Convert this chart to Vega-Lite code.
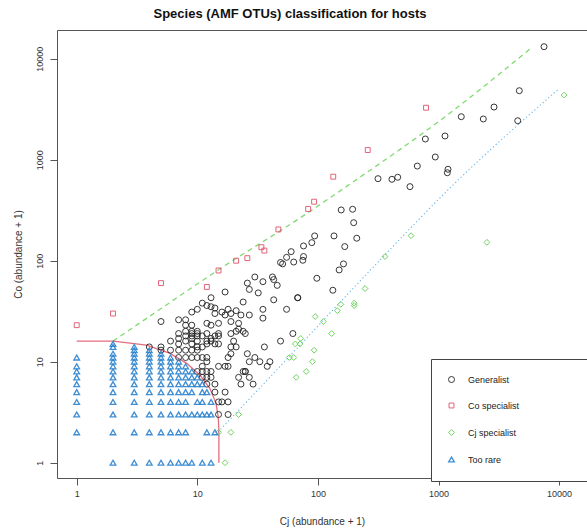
{
  "$schema": "https://vega.github.io/schema/vega-lite/v6.json",
  "width": 530,
  "height": 448,
  "autosize": {"type": "none"},
  "padding": {"left": 57, "top": 30, "right": 0, "bottom": 52},
  "title": {"text": "Species (AMF OTUs) classification for hosts", "font": "Liberation Sans", "fontSize": 13, "fontWeight": "bold", "color": "#111111", "anchor": "middle", "dx": -32, "offset": 9},
  "config": {
    "view": {"stroke": "#555555", "strokeWidth": 1},
    "axis": {"grid": false, "domain": false, "tickSize": 7, "tickColor": "#555555", "labelFont": "Liberation Sans", "labelFontSize": 9, "labelColor": "#333333", "labelFlush": false, "labelOverlap": false, "titleFont": "Liberation Sans", "titleFontSize": 10, "titleFontWeight": "normal", "titleColor": "#333333"}
  },
  "datasets": {
    "dashed": [
      {"i": 1, "Cj": 2, "Co": 16},
      {"i": 2, "Cj": 4.05, "Co": 28.3},
      {"i": 3, "Cj": 14.9, "Co": 80.9},
      {"i": 4, "Cj": 71.1, "Co": 265},
      {"i": 5, "Cj": 184.6, "Co": 574},
      {"i": 6, "Cj": 1245, "Co": 2898},
      {"i": 7, "Cj": 5850, "Co": 12760}
    ],
    "dotted": [
      {"i": 1, "Cj": 14.85, "Co": 2.01},
      {"i": 2, "Cj": 27.35, "Co": 4.34},
      {"i": 3, "Cj": 71.1, "Co": 14.6},
      {"i": 4, "Cj": 327, "Co": 101.6},
      {"i": 5, "Cj": 1245, "Co": 525},
      {"i": 6, "Cj": 9700, "Co": 4898}
    ],
    "curve": [
      {"i": 1, "Cj": 1, "Co": 16},
      {"i": 2, "Cj": 2.01, "Co": 16},
      {"i": 3, "Cj": 3.8, "Co": 14.6},
      {"i": 4, "Cj": 5.94, "Co": 12.1},
      {"i": 5, "Cj": 8.17, "Co": 9.64},
      {"i": 6, "Cj": 10.5, "Co": 7.38},
      {"i": 7, "Cj": 12.7, "Co": 5.45},
      {"i": 8, "Cj": 14.3, "Co": 3.87},
      {"i": 9, "Cj": 14.9, "Co": 2.85},
      {"i": 10, "Cj": 15.1, "Co": 2.11},
      {"i": 11, "Cj": 15.1, "Co": 1}
    ],
    "points": [
      {"Cj":7500,"Co":13150,"class":"Generalist"},{"Cj":4677,"Co":4822,"class":"Generalist"},{"Cj":2886,"Co":3324,"class":"Generalist"},{"Cj":1545,"Co":2666,"class":"Generalist"},{"Cj":2352,"Co":2530,"class":"Generalist"},{"Cj":4538,"Co":2432,"class":"Generalist"},{"Cj":778,"Co":1603,"class":"Generalist"},{"Cj":1132,"Co":1718,"class":"Generalist"},{"Cj":940,"Co":1064,"class":"Generalist"},{"Cj":1199,"Co":804,"class":"Generalist"},{"Cj":1183,"Co":743,"class":"Generalist"},{"Cj":667,"Co":865,"class":"Generalist"},{"Cj":315,"Co":649,"class":"Generalist"},{"Cj":411,"Co":640,"class":"Generalist"},{"Cj":459,"Co":670,"class":"Generalist"},{"Cj":580,"Co":541,"class":"Generalist"},{"Cj":156,"Co":318,"class":"Generalist"},{"Cj":194,"Co":323,"class":"Generalist"},{"Cj":198,"Co":238,"class":"Generalist"},{"Cj":94,"Co":176,"class":"Generalist"},{"Cj":136,"Co":176,"class":"Generalist"},{"Cj":210,"Co":167,"class":"Generalist"},{"Cj":76,"Co":140,"class":"Generalist"},{"Cj":89,"Co":151,"class":"Generalist"},{"Cj":167,"Co":138,"class":"Generalist"},
      {"Cj":60,"Co":123,"class":"Generalist"},{"Cj":55,"Co":108,"class":"Generalist"},{"Cj":63,"Co":97,"class":"Generalist"},{"Cj":75,"Co":101,"class":"Generalist"},{"Cj":76,"Co":110,"class":"Generalist"},{"Cj":49,"Co":96,"class":"Generalist"},{"Cj":51,"Co":93,"class":"Generalist"},{"Cj":163,"Co":93,"class":"Generalist"},{"Cj":150,"Co":81,"class":"Generalist"},{"Cj":98,"Co":67,"class":"Generalist"},{"Cj":133,"Co":51,"class":"Generalist"},{"Cj":55,"Co":33,"class":"Generalist"},{"Cj":68,"Co":43,"class":"Generalist"},{"Cj":68,"Co":43,"class":"Generalist"},{"Cj":43,"Co":41,"class":"Generalist"},{"Cj":30,"Co":69,"class":"Generalist"},{"Cj":35,"Co":62,"class":"Generalist"},{"Cj":42,"Co":69,"class":"Generalist"},{"Cj":43,"Co":65,"class":"Generalist"},{"Cj":13,"Co":43,"class":"Generalist"},{"Cj":35,"Co":33,"class":"Generalist"},{"Cj":35,"Co":27,"class":"Generalist"},{"Cj":62,"Co":19,"class":"Generalist"},{"Cj":49,"Co":16,"class":"Generalist"},{"Cj":36,"Co":14,"class":"Generalist"},{"Cj":38,"Co":9,"class":"Generalist"},{"Cj":33,"Co":10,"class":"Generalist"},{"Cj":40,"Co":10,"class":"Generalist"},{"Cj":25,"Co":8,"class":"Generalist"},{"Cj":23,"Co":6,"class":"Generalist"},{"Cj":29,"Co":6,"class":"Generalist"},{"Cj":46,"Co":57,"class":"Generalist"},
      {"Cj":17,"Co":49,"class":"Generalist"},{"Cj":26,"Co":60,"class":"Generalist"},{"Cj":27,"Co":52,"class":"Generalist"},{"Cj":32,"Co":48,"class":"Generalist"},{"Cj":11,"Co":38,"class":"Generalist"},{"Cj":12,"Co":36,"class":"Generalist"},{"Cj":13,"Co":35,"class":"Generalist"},{"Cj":14,"Co":34,"class":"Generalist"},{"Cj":10,"Co":33,"class":"Generalist"},{"Cj":9,"Co":31,"class":"Generalist"},{"Cj":8,"Co":26,"class":"Generalist"},{"Cj":7,"Co":26,"class":"Generalist"},{"Cj":5,"Co":25,"class":"Generalist"},{"Cj":18,"Co":33,"class":"Generalist"},{"Cj":16,"Co":31,"class":"Generalist"},{"Cj":14,"Co":30,"class":"Generalist"},{"Cj":17,"Co":29,"class":"Generalist"},{"Cj":19,"Co":30,"class":"Generalist"},{"Cj":21,"Co":32,"class":"Generalist"},{"Cj":23,"Co":29,"class":"Generalist"},{"Cj":22,"Co":24,"class":"Generalist"},{"Cj":19,"Co":25,"class":"Generalist"},{"Cj":15,"Co":24,"class":"Generalist"},{"Cj":13,"Co":23,"class":"Generalist"},{"Cj":12,"Co":24,"class":"Generalist"},{"Cj":9,"Co":23,"class":"Generalist"},{"Cj":8,"Co":23,"class":"Generalist"},{"Cj":8,"Co":20,"class":"Generalist"},{"Cj":9,"Co":20,"class":"Generalist"},{"Cj":10,"Co":20,"class":"Generalist"},{"Cj":24,"Co":39,"class":"Generalist"},{"Cj":27,"Co":29,"class":"Generalist"},{"Cj":21,"Co":20,"class":"Generalist"},{"Cj":22,"Co":21,"class":"Generalist"},{"Cj":24,"Co":20,"class":"Generalist"},{"Cj":25,"Co":19,"class":"Generalist"},{"Cj":19,"Co":19,"class":"Generalist"},{"Cj":12,"Co":19,"class":"Generalist"},{"Cj":14,"Co":18,"class":"Generalist"},{"Cj":15,"Co":19,"class":"Generalist"},{"Cj":13,"Co":17,"class":"Generalist"},{"Cj":11,"Co":18,"class":"Generalist"},{"Cj":10,"Co":18,"class":"Generalist"},{"Cj":9,"Co":18,"class":"Generalist"},{"Cj":7,"Co":17,"class":"Generalist"},{"Cj":7,"Co":15,"class":"Generalist"},{"Cj":8,"Co":16,"class":"Generalist"},{"Cj":9,"Co":15,"class":"Generalist"},{"Cj":10,"Co":16,"class":"Generalist"},{"Cj":10,"Co":14,"class":"Generalist"},{"Cj":11,"Co":14,"class":"Generalist"},{"Cj":12,"Co":15,"class":"Generalist"},{"Cj":13,"Co":16,"class":"Generalist"},{"Cj":14,"Co":15,"class":"Generalist"},{"Cj":20,"Co":16,"class":"Generalist"},{"Cj":5,"Co":13,"class":"Generalist"},{"Cj":6,"Co":13,"class":"Generalist"},{"Cj":7,"Co":13,"class":"Generalist"},{"Cj":8,"Co":13,"class":"Generalist"},{"Cj":9,"Co":13,"class":"Generalist"},{"Cj":10,"Co":13,"class":"Generalist"},{"Cj":19,"Co":14,"class":"Generalist"},{"Cj":21,"Co":14,"class":"Generalist"},{"Cj":18,"Co":11,"class":"Generalist"},{"Cj":19,"Co":12,"class":"Generalist"},{"Cj":26,"Co":12,"class":"Generalist"},{"Cj":27,"Co":10,"class":"Generalist"},{"Cj":30,"Co":11,"class":"Generalist"},{"Cj":7,"Co":11,"class":"Generalist"},{"Cj":8,"Co":11,"class":"Generalist"},{"Cj":9,"Co":11,"class":"Generalist"},{"Cj":10,"Co":11,"class":"Generalist"},{"Cj":11,"Co":11,"class":"Generalist"},{"Cj":12,"Co":11,"class":"Generalist"},{"Cj":12,"Co":10,"class":"Generalist"},{"Cj":11,"Co":9,"class":"Generalist"},{"Cj":12,"Co":8,"class":"Generalist"},{"Cj":15,"Co":9,"class":"Generalist"},{"Cj":17,"Co":9,"class":"Generalist"},{"Cj":18,"Co":9,"class":"Generalist"},{"Cj":11,"Co":8,"class":"Generalist"},{"Cj":12,"Co":7,"class":"Generalist"},{"Cj":22,"Co":7,"class":"Generalist"},{"Cj":24,"Co":8,"class":"Generalist"},{"Cj":27,"Co":7,"class":"Generalist"},{"Cj":14,"Co":6,"class":"Generalist"},{"Cj":14,"Co":5,"class":"Generalist"},{"Cj":15,"Co":4,"class":"Generalist"},{"Cj":18,"Co":4,"class":"Generalist"},{"Cj":15,"Co":3,"class":"Generalist"},{"Cj":18,"Co":3,"class":"Generalist"},
      {"Cj":4,"Co":14,"class":"Generalist"},{"Cj":5,"Co":14,"class":"Generalist"},{"Cj":7,"Co":19,"class":"Generalist"},{"Cj":8,"Co":18,"class":"Generalist"},{"Cj":9,"Co":19,"class":"Generalist"},{"Cj":9,"Co":17,"class":"Generalist"},{"Cj":10,"Co":19,"class":"Generalist"},{"Cj":12,"Co":16,"class":"Generalist"},{"Cj":15,"Co":18,"class":"Generalist"},{"Cj":15,"Co":15,"class":"Generalist"},{"Cj":13,"Co":8,"class":"Generalist"},{"Cj":12,"Co":6,"class":"Generalist"},{"Cj":11,"Co":7,"class":"Generalist"},{"Cj":13,"Co":7,"class":"Generalist"},{"Cj":10,"Co":8,"class":"Generalist"},{"Cj":16,"Co":4,"class":"Generalist"},{"Cj":17,"Co":5,"class":"Generalist"},{"Cj":25,"Co":8,"class":"Generalist"},{"Cj":6,"Co":16,"class":"Generalist"},
      {"Cj":1,"Co":23,"class":"Co specialist"},{"Cj":2,"Co":30,"class":"Co specialist"},{"Cj":5,"Co":60,"class":"Co specialist"},{"Cj":12,"Co":55,"class":"Co specialist"},{"Cj":15,"Co":80,"class":"Co specialist"},{"Cj":21,"Co":100,"class":"Co specialist"},{"Cj":26,"Co":106,"class":"Co specialist"},{"Cj":34,"Co":136,"class":"Co specialist"},{"Cj":36,"Co":126,"class":"Co specialist"},{"Cj":47,"Co":204,"class":"Co specialist"},{"Cj":83,"Co":325,"class":"Co specialist"},{"Cj":93,"Co":384,"class":"Co specialist"},{"Cj":134,"Co":679,"class":"Co specialist"},{"Cj":259,"Co":1247,"class":"Co specialist"},{"Cj":788,"Co":3273,"class":"Co specialist"},
      {"Cj":246,"Co":53,"class":"Cj specialist"},{"Cj":155,"Co":37,"class":"Cj specialist"},{"Cj":145,"Co":32,"class":"Cj specialist"},{"Cj":200,"Co":38,"class":"Cj specialist"},{"Cj":200,"Co":36,"class":"Cj specialist"},{"Cj":95,"Co":28,"class":"Cj specialist"},{"Cj":111,"Co":25,"class":"Cj specialist"},{"Cj":130,"Co":19,"class":"Cj specialist"},{"Cj":72,"Co":17,"class":"Cj specialist"},{"Cj":65,"Co":15,"class":"Cj specialist"},{"Cj":71,"Co":15,"class":"Cj specialist"},{"Cj":93,"Co":13,"class":"Cj specialist"},{"Cj":58,"Co":11,"class":"Cj specialist"},{"Cj":63,"Co":11,"class":"Cj specialist"},{"Cj":90,"Co":10,"class":"Cj specialist"},{"Cj":80,"Co":8,"class":"Cj specialist"},{"Cj":66,"Co":7,"class":"Cj specialist"},{"Cj":592,"Co":177,"class":"Cj specialist"},{"Cj":360,"Co":110,"class":"Cj specialist"},{"Cj":2520,"Co":152,"class":"Cj specialist"},{"Cj":11000,"Co":4365,"class":"Cj specialist"},{"Cj":15,"Co":2,"class":"Cj specialist"},{"Cj":19,"Co":2,"class":"Cj specialist"},{"Cj":22,"Co":3,"class":"Cj specialist"},{"Cj":17,"Co":1,"class":"Cj specialist"},
      {"Cj":2,"Co":1,"class":"Too rare"},{"Cj":3,"Co":1,"class":"Too rare"},{"Cj":4,"Co":1,"class":"Too rare"},{"Cj":5,"Co":1,"class":"Too rare"},{"Cj":6,"Co":1,"class":"Too rare"},{"Cj":7,"Co":1,"class":"Too rare"},{"Cj":8,"Co":1,"class":"Too rare"},{"Cj":9,"Co":1,"class":"Too rare"},{"Cj":11,"Co":1,"class":"Too rare"},{"Cj":13,"Co":1,"class":"Too rare"},
      {"Cj":1,"Co":2,"class":"Too rare"},{"Cj":2,"Co":2,"class":"Too rare"},{"Cj":3,"Co":2,"class":"Too rare"},{"Cj":4,"Co":2,"class":"Too rare"},{"Cj":5,"Co":2,"class":"Too rare"},{"Cj":6,"Co":2,"class":"Too rare"},{"Cj":7,"Co":2,"class":"Too rare"},{"Cj":8,"Co":2,"class":"Too rare"},{"Cj":12,"Co":2,"class":"Too rare"},{"Cj":14,"Co":2,"class":"Too rare"},
      {"Cj":1,"Co":3,"class":"Too rare"},{"Cj":2,"Co":3,"class":"Too rare"},{"Cj":3,"Co":3,"class":"Too rare"},{"Cj":4,"Co":3,"class":"Too rare"},{"Cj":5,"Co":3,"class":"Too rare"},{"Cj":6,"Co":3,"class":"Too rare"},{"Cj":7,"Co":3,"class":"Too rare"},{"Cj":8,"Co":3,"class":"Too rare"},{"Cj":9,"Co":3,"class":"Too rare"},{"Cj":10,"Co":3,"class":"Too rare"},{"Cj":11,"Co":3,"class":"Too rare"},{"Cj":12,"Co":3,"class":"Too rare"},{"Cj":13,"Co":3,"class":"Too rare"},
      {"Cj":1,"Co":4,"class":"Too rare"},{"Cj":2,"Co":4,"class":"Too rare"},{"Cj":3,"Co":4,"class":"Too rare"},{"Cj":4,"Co":4,"class":"Too rare"},{"Cj":5,"Co":4,"class":"Too rare"},{"Cj":6,"Co":4,"class":"Too rare"},{"Cj":7,"Co":4,"class":"Too rare"},{"Cj":8,"Co":4,"class":"Too rare"},{"Cj":10,"Co":4,"class":"Too rare"},{"Cj":11,"Co":4,"class":"Too rare"},{"Cj":13,"Co":4,"class":"Too rare"},
      {"Cj":1,"Co":5,"class":"Too rare"},{"Cj":2,"Co":5,"class":"Too rare"},{"Cj":3,"Co":5,"class":"Too rare"},{"Cj":4,"Co":5,"class":"Too rare"},{"Cj":5,"Co":5,"class":"Too rare"},{"Cj":6,"Co":5,"class":"Too rare"},{"Cj":7,"Co":5,"class":"Too rare"},{"Cj":8,"Co":5,"class":"Too rare"},{"Cj":9,"Co":5,"class":"Too rare"},{"Cj":11,"Co":5,"class":"Too rare"},{"Cj":12,"Co":5,"class":"Too rare"},
      {"Cj":1,"Co":6,"class":"Too rare"},{"Cj":2,"Co":6,"class":"Too rare"},{"Cj":3,"Co":6,"class":"Too rare"},{"Cj":4,"Co":6,"class":"Too rare"},{"Cj":5,"Co":6,"class":"Too rare"},{"Cj":6,"Co":6,"class":"Too rare"},{"Cj":7,"Co":6,"class":"Too rare"},{"Cj":8,"Co":6,"class":"Too rare"},{"Cj":9,"Co":6,"class":"Too rare"},{"Cj":10,"Co":6,"class":"Too rare"},{"Cj":11,"Co":6,"class":"Too rare"},
      {"Cj":1,"Co":7,"class":"Too rare"},{"Cj":2,"Co":7,"class":"Too rare"},{"Cj":3,"Co":7,"class":"Too rare"},{"Cj":4,"Co":7,"class":"Too rare"},{"Cj":5,"Co":7,"class":"Too rare"},{"Cj":6,"Co":7,"class":"Too rare"},{"Cj":7,"Co":7,"class":"Too rare"},{"Cj":8,"Co":7,"class":"Too rare"},{"Cj":9,"Co":7,"class":"Too rare"},{"Cj":10,"Co":7,"class":"Too rare"},
      {"Cj":1,"Co":8,"class":"Too rare"},{"Cj":2,"Co":8,"class":"Too rare"},{"Cj":3,"Co":8,"class":"Too rare"},{"Cj":4,"Co":8,"class":"Too rare"},{"Cj":5,"Co":8,"class":"Too rare"},{"Cj":6,"Co":8,"class":"Too rare"},{"Cj":7,"Co":8,"class":"Too rare"},{"Cj":8,"Co":8,"class":"Too rare"},{"Cj":9,"Co":8,"class":"Too rare"},
      {"Cj":1,"Co":9,"class":"Too rare"},{"Cj":2,"Co":9,"class":"Too rare"},{"Cj":3,"Co":9,"class":"Too rare"},{"Cj":4,"Co":9,"class":"Too rare"},{"Cj":5,"Co":9,"class":"Too rare"},{"Cj":6,"Co":9,"class":"Too rare"},{"Cj":7,"Co":9,"class":"Too rare"},{"Cj":8,"Co":9,"class":"Too rare"},
      {"Cj":2,"Co":10,"class":"Too rare"},{"Cj":3,"Co":10,"class":"Too rare"},{"Cj":4,"Co":10,"class":"Too rare"},{"Cj":5,"Co":10,"class":"Too rare"},{"Cj":6,"Co":10,"class":"Too rare"},{"Cj":7,"Co":10,"class":"Too rare"},
      {"Cj":1,"Co":11,"class":"Too rare"},{"Cj":2,"Co":11,"class":"Too rare"},{"Cj":3,"Co":11,"class":"Too rare"},{"Cj":4,"Co":11,"class":"Too rare"},{"Cj":5,"Co":11,"class":"Too rare"},{"Cj":6,"Co":11,"class":"Too rare"},
      {"Cj":2,"Co":12,"class":"Too rare"},{"Cj":3,"Co":12,"class":"Too rare"},{"Cj":4,"Co":12,"class":"Too rare"},{"Cj":5,"Co":12,"class":"Too rare"},
      {"Cj":3,"Co":13,"class":"Too rare"},{"Cj":4,"Co":13,"class":"Too rare"},
      {"Cj":2,"Co":14,"class":"Too rare"},{"Cj":3,"Co":14,"class":"Too rare"},
      {"Cj":2,"Co":15,"class":"Too rare"}
    ]
  },
  "encoding": {
    "x": {"field": "Cj", "type": "quantitative", "scale": {"type": "log", "domain": [0.6866, 17030], "nice": false, "zero": false}, "axis": {"values": [1, 10, 100, 1000, 10000], "format": "d", "labelPadding": 4, "title": "Cj (abundance + 1)", "titleY": 43, "titleBaseline": "middle", "titleX": 265, "titleAlign": "center"}},
    "y": {"field": "Co", "type": "quantitative", "scale": {"type": "log", "domain": [0.7057, 19240], "nice": false, "zero": false}, "axis": {"values": [1, 10, 100, 1000, 10000], "format": "d", "labelAngle": -90, "labelAlign": "center", "labelBaseline": "top", "labelPadding": 15, "title": "Co (abundance + 1)", "titleX": -39, "titleY": 224, "titleAngle": -90, "titleAlign": "center", "titleBaseline": "middle"}}
  },
  "layer": [
    {
      "data": {"name": "dashed"},
      "mark": {"type": "line", "color": "#61D04F", "strokeWidth": 1.3, "strokeDash": [5, 4], "opacity": 0.8, "interpolate": "monotone"},
      "encoding": {"order": {"field": "i", "type": "quantitative"}}
    },
    {
      "data": {"name": "dotted"},
      "mark": {"type": "line", "color": "#2297E6", "strokeWidth": 1.1, "strokeDash": [1.2, 2.5], "opacity": 0.7, "interpolate": "monotone"},
      "encoding": {"order": {"field": "i", "type": "quantitative"}}
    },
    {
      "data": {"name": "curve"},
      "mark": {"type": "line", "color": "#DF536B", "strokeWidth": 1.3, "opacity": 0.85},
      "encoding": {"order": {"field": "i", "type": "quantitative"}}
    },
    {
      "data": {"name": "points"},
      "mark": {"type": "point", "filled": false, "opacity": 0.9},
      "encoding": {
        "color": {"field": "class", "type": "nominal", "scale": {"domain": ["Generalist", "Co specialist", "Cj specialist", "Too rare"], "range": ["#222222", "#DF536B", "#61D04F", "#2A82CF"]},
          "legend": {"orient": "none", "legendX": 374, "legendY": 329, "title": null, "strokeColor": "#444444", "fillColor": "white", "padding": 16, "rowPadding": 16, "symbolSize": 25, "symbolStrokeWidth": 1, "labelFont": "Liberation Sans", "labelFontSize": 9, "labelColor": "#222222", "labelOffset": 12, "labelLimit": 400, "labelExpr": "datum.label + '                                        \u2800'"}},
        "shape": {"field": "class", "type": "nominal", "scale": {"domain": ["Generalist", "Co specialist", "Cj specialist", "Too rare"], "range": ["circle", "square", "diamond", "triangle-up"]},
          "legend": {"orient": "none", "legendX": 374, "legendY": 329, "title": null, "strokeColor": "#444444", "fillColor": "white", "padding": 16, "rowPadding": 16, "symbolSize": 25, "symbolStrokeWidth": 1, "labelFont": "Liberation Sans", "labelFontSize": 9, "labelColor": "#222222", "labelOffset": 12, "labelLimit": 400, "labelExpr": "datum.label + '                                        \u2800'"}},
        "size": {"field": "class", "type": "nominal", "scale": {"type": "ordinal", "domain": ["Generalist", "Co specialist", "Cj specialist", "Too rare"], "range": [36, 24, 34, 32]}, "legend": null},
        "strokeWidth": {"field": "class", "type": "nominal", "scale": {"type": "ordinal", "domain": ["Generalist", "Co specialist", "Cj specialist", "Too rare"], "range": [1, 1, 1, 1.3]}, "legend": null}
      }
    }
  ]
}
